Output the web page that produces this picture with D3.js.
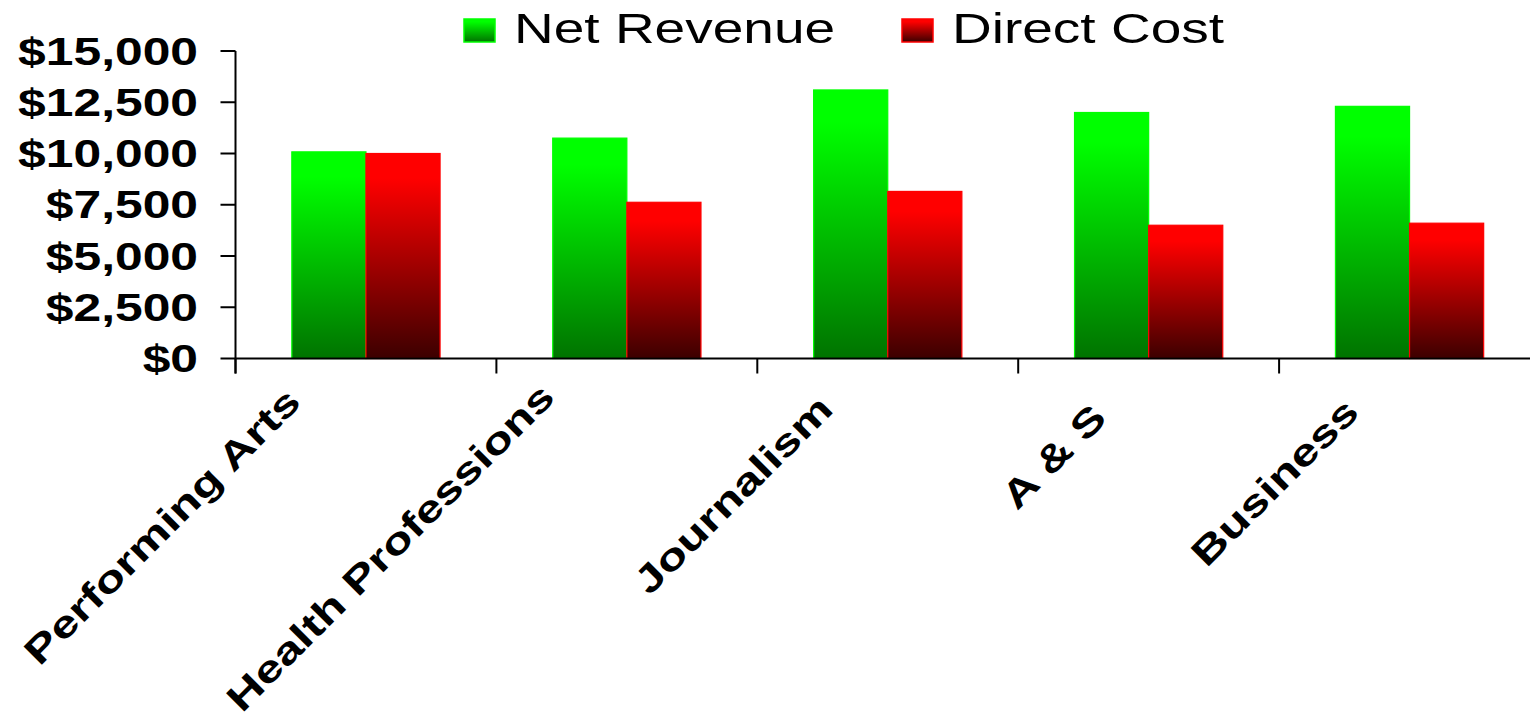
<!DOCTYPE html>
<html>
<head>
<meta charset="utf-8">
<script src="https://cdn.jsdelivr.net/npm/d3@7"></script>
<style>
  html, body { margin: 0; padding: 0; background: #ffffff; }
  svg { display: block; font-family: "Liberation Sans", Arial, sans-serif; }
</style>
</head>
<body>
<svg id="chart" width="1530" height="719"></svg>
<script>
// ---- data ----
const categories = ["Performing Arts", "Health Professions", "Journalism", "A & S", "Business"];
const seriesNames = ["Net Revenue", "Direct Cost"];
const netRevenue = [10080, 10750, 13100, 12000, 12300];
const directCost = [10000, 7620, 8150, 6500, 6600];
const yTicks = [0, 2500, 5000, 7500, 10000, 12500, 15000];

const seriesValues = [netRevenue, directCost];
const topColors = ["#00ff00", "#ff0000"];
const bottomColors = ["#007300", "#3c0000"];

const svg = d3.select("#chart");
const stretch = 1.31;

// ---- scales ----
const x = d3.scaleBand().domain(categories).range([235.5, 1540]).paddingInner(0).paddingOuter(0);
const xInner = d3.scaleBand().domain(seriesNames).range([0, x.bandwidth()]).paddingInner(0).paddingOuter(0.76);
const y = d3.scaleLinear().domain([0, 15000]).range([358.5, 51]);

// ---- gradients ----
const defs = svg.append("defs");
seriesNames.forEach((s, i) => {
  const g = defs.append("linearGradient")
    .attr("id", "grad" + i)
    .attr("x1", 0).attr("y1", 0).attr("x2", 0).attr("y2", 1);
  g.append("stop").attr("offset", "0%").attr("stop-color", topColors[i]);
  g.append("stop").attr("offset", "12%").attr("stop-color", topColors[i]);
  g.append("stop").attr("offset", "100%").attr("stop-color", bottomColors[i]);
});

// ---- bars ----
const rows = categories.map((c, ci) => ({ c, vals: seriesValues.map((arr, si) => ({ s: seriesNames[si], si, v: arr[ci] })) }));
const groups = svg.append("g").selectAll("g").data(rows).join("g")
  .attr("transform", d => `translate(${x(d.c)},0)`);
groups.selectAll("rect").data(d => d.vals).join("rect")
  .attr("x", d => xInner(d.s))
  .attr("width", xInner.bandwidth())
  .attr("y", d => y(d.v))
  .attr("height", d => y(0) - y(d.v))
  .attr("fill", d => `url(#grad${d.si})`)
  .attr("stroke", d => topColors[d.si])
  .attr("stroke-width", 1.2);

// ---- y axis ----
const yAxis = svg.append("g");
yAxis.append("line")
  .attr("x1", x.range()[0]).attr("x2", x.range()[0])
  .attr("y1", y(15000)).attr("y2", y(0) + 15)
  .attr("stroke", "#000").attr("stroke-width", 2);
const yt = yAxis.selectAll("g.yt").data(yTicks).join("g").attr("class", "yt")
  .attr("transform", d => `translate(0,${y(d)})`);
yt.append("line")
  .attr("x1", x.range()[0] - 15).attr("x2", x.range()[0])
  .attr("stroke", "#000").attr("stroke-width", 2);
yt.append("text")
  .attr("transform", `translate(198,0) scale(${stretch},1)`)
  .attr("text-anchor", "end")
  .attr("dy", "0.36em")
  .attr("font-size", 38)
  .attr("font-weight", "bold")
  .attr("fill", "#000")
  .text(d => "$" + d3.format(",")(d));

// ---- x axis ----
const xAxis = svg.append("g");
xAxis.append("line")
  .attr("x1", x.range()[0]).attr("x2", 1530)
  .attr("y1", y(0)).attr("y2", y(0))
  .attr("stroke", "#000").attr("stroke-width", 2);
xAxis.selectAll("line.xt").data(categories).join("line").attr("class", "xt")
  .attr("x1", d => x(d)).attr("x2", d => x(d))
  .attr("y1", y(0)).attr("y2", y(0) + 15)
  .attr("stroke", "#000").attr("stroke-width", 2);

const xl = xAxis.selectAll("g.xl").data(categories).join("g").attr("class", "xl");
xl.each(function(d) {
  const g = d3.select(this);
  const t = g.append("text")
    .attr("text-anchor", "end")
    .attr("font-size", 37.5)
    .attr("font-weight", "bold")
    .attr("fill", "#000")
    .attr("transform", `scale(${stretch},1)`)
    .text(d);
  const w = t.node().getComputedTextLength() * stretch;
  const cx = x(d) + x.bandwidth() / 2 - 28 - 0.095 * w;
  const cy = y(0) + 70 - 0.066 * w;
  g.attr("transform", `translate(${cx},${cy}) rotate(-45)`);
});

// ---- legend ----
const legendX = [464, 902];
const legend = svg.append("g").selectAll("g").data(seriesNames).join("g")
  .attr("transform", (d, i) => `translate(${legendX[i]},0)`);
legend.append("rect")
  .attr("x", 0).attr("y", 19).attr("width", 31).attr("height", 23)
  .attr("fill", (d, i) => `url(#grad${i})`)
  .attr("stroke", (d, i) => topColors[i]).attr("stroke-width", 1.5);
legend.append("text")
  .attr("transform", `translate(50,42.5) scale(${stretch},1)`)
  .attr("font-size", 42)
  .attr("fill", "#000")
  .text(d => d);
</script>
</body>
</html>
